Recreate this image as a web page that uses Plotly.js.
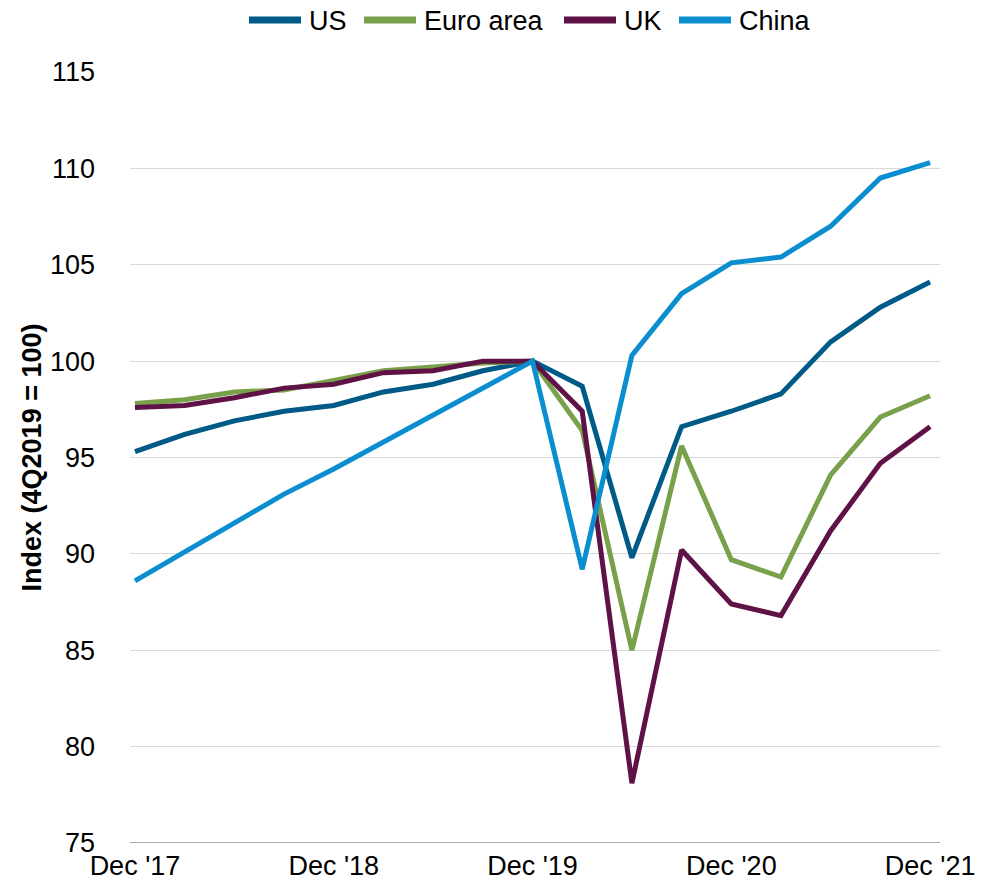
<!DOCTYPE html>
<html>
<head>
<meta charset="utf-8">
<script src="https://cdn.plot.ly/plotly-3.0.1.min.js"></script>
<style>html,body{margin:0;padding:0;background:#fff;}#chart{width:987px;height:890px;}</style>
</head>
<body>
<div id="chart"></div>
<script>
const quarters = ["Dec '17","Mar '18","Jun '18","Sep '18","Dec '18","Mar '19","Jun '19","Sep '19","Dec '19","Mar '20","Jun '20","Sep '20","Dec '20","Mar '21","Jun '21","Sep '21","Dec '21"];
const tickLabels = ["Dec '17","Dec '18","Dec '19","Dec '20","Dec '21"];
const us    = [95.3, 96.2, 96.9, 97.4, 97.7, 98.4, 98.8, 99.5, 100.0, 98.7, 89.8, 96.6, 97.4, 98.3, 101.0, 102.8, 104.1];
const euro  = [97.8, 98.0, 98.4, 98.5, 99.0, 99.5, 99.7, 99.9, 100.0, 96.4, 85.0, 95.6, 89.7, 88.8, 94.1, 97.1, 98.2];
const uk    = [97.6, 97.7, 98.1, 98.6, 98.8, 99.4, 99.5, 100.0, 100.0, 97.4, 78.1, 90.2, 87.4, 86.8, 91.2, 94.7, 96.6];
const china = [88.6, 90.1, 91.6, 93.1, 94.4, 95.8, 97.2, 98.6, 100.0, 89.2, 100.3, 103.5, 105.1, 105.4, 107.0, 109.5, 110.3];

const names  = ["US","Euro area","UK","China"];
const colors = ["#005A87","#79A04A","#5E1246","#0A8ECF"];
const series = [us, euro, uk, china];

const traces = series.map((s,i)=>({
  x: quarters, y: s, name: names[i], type: 'scatter', mode: 'lines',
  line: {color: colors[i], width: 5, join: 'miter'}
}));

const FONT = 'Liberation Sans, Arial, sans-serif';

// plot geometry (pixels) used to place the hand-drawn legend
const W = 987, H = 890, ML = 130, MR = 47, MT = 72, MB = 47;
const PW = W - ML - MR, PH = H - MT - MB;
const px2x = p => (p - ML) / PW;
const py2y = p => (H - MB - p) / PH;
const legendTextX = [308, 423, 623, 738];
const legendY = 20;

const shapes = [{type: 'line', xref: 'paper', yref: 'y', x0: 0, x1: 1, y0: 75, y1: 75,
                 line: {color: '#8C8C8C', width: 1.5}}];
const annotations = [];
names.forEach((n, i) => {
  shapes.push({type: 'line', xref: 'paper', yref: 'paper',
               x0: px2x(legendTextX[i] - 59), x1: px2x(legendTextX[i] - 7),
               y0: py2y(legendY), y1: py2y(legendY),
               line: {color: colors[i], width: 7}});
  annotations.push({text: n, xref: 'paper', yref: 'paper', x: px2x(legendTextX[i] - 1), y: py2y(legendY + 1),
                    xanchor: 'left', yanchor: 'middle', showarrow: false,
                    font: {size: 27, family: FONT, color: '#000'}});
});

const layout = {
  width: W, height: H,
  margin: {l: ML, r: MR, t: MT, b: MB, autoexpand: false},
  paper_bgcolor: '#fff', plot_bgcolor: '#fff',
  font: {family: FONT, size: 27, color: '#000'},
  showlegend: false,
  xaxis: {
    type: 'category', categoryorder: 'array', categoryarray: quarters,
    range: [-0.1, 16.2], tickvals: tickLabels, ticktext: tickLabels,
    showgrid: false, zeroline: false, showline: false, ticks: '',
    tickfont: {size: 27}, ticklabelstandoff: 4, automargin: false
  },
  yaxis: {
    range: [75, 115], dtick: 5, tick0: 75,
    showgrid: true, gridcolor: '#D9D9D9', gridwidth: 1,
    zeroline: false, showline: false, ticks: '',
    ticklabelstandoff: 34,
    tickfont: {size: 27},
    title: {text: '<b>Index (4Q2019 = 100)</b>', font: {size: 27}, standoff: 0},
    automargin: false
  },
  shapes: shapes,
  annotations: annotations
};

Plotly.newPlot('chart', traces, layout, {displayModeBar: false, staticPlot: true});
</script>
</body>
</html>
